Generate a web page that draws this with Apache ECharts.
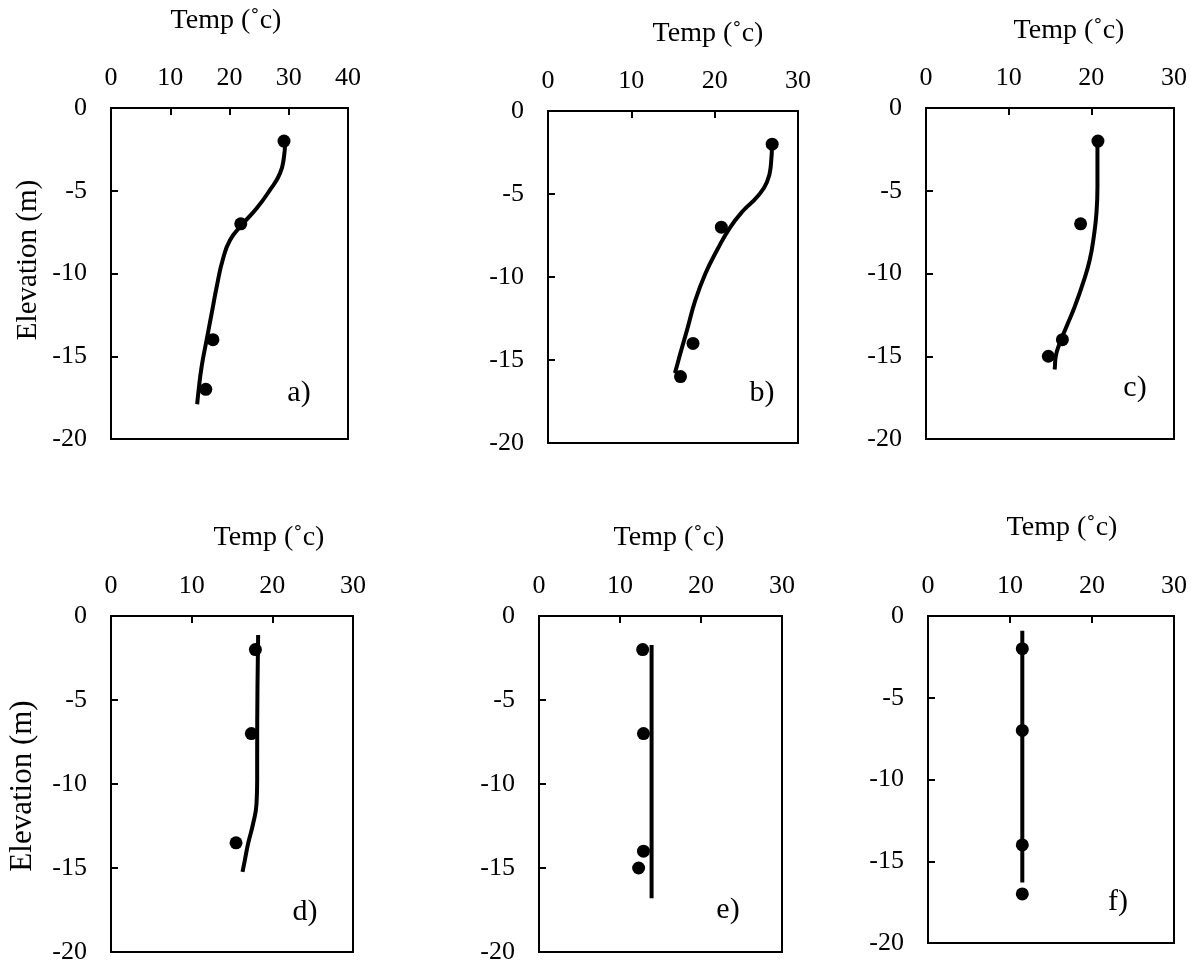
<!DOCTYPE html>
<html>
<head>
<meta charset="utf-8">
<script src="https://cdn.jsdelivr.net/npm/echarts@6/dist/echarts.min.js"></script>
<style>html,body{margin:0;padding:0;background:#fff}#c{width:1194px;height:968px}</style>
</head>
<body>
<div id="c"></div>
<script>
// ---- Data ----
const panelLabels = ['a)', 'b)', 'c)', 'd)', 'e)', 'f)'];
const xTitle = 'Temp (˚c)';
const yTitle = 'Elevation (m)';
const xMaxA = 40, xMaxOther = 30;
const yTicks = [0, -5, -10, -15, -20];

// measured points: temperature and elevation
const tempA = [29.2, 21.9, 17.2, 16.0];
const elevA = [-2, -7, -14, -17];
const tempB = [26.9, 20.8, 17.4, 15.9];
const elevB = [-2, -7, -14, -16];
const tempC = [20.8, 18.7, 16.5, 14.8];
const elevC = [-2, -7, -14, -15];
const tempD = [17.9, 17.4, 15.5];
const elevD = [-2, -7, -13.5];
const tempE = [12.8, 12.9, 12.9, 12.3];
const elevE = [-2, -7, -14, -15];
const tempF = [11.5, 11.5, 11.5, 11.5];
const elevF = [-2, -7, -14, -17];

// fitted profile curves: temperature and elevation
const curveTempA = [29.37, 29.2, 28.52, 26.84, 24.59, 22.06, 20.1, 18.85, 17.84, 17.0, 16.15, 15.31, 14.73, 14.55];
const curveElevA = [-2.13, -2.94, -3.95, -4.95, -6.06, -7.07, -7.98, -9.18, -10.8, -12.4, -14.0, -15.6, -17.24, -17.9];
const curveTempB = [26.88, 26.76, 26.28, 25.08, 23.47, 21.88, 20.28, 18.88, 17.68, 16.68, 15.88, 15.28, 15.2];
const curveElevB = [-1.96, -3.17, -4.28, -5.18, -5.98, -6.99, -8.39, -9.8, -11.4, -13.2, -14.6, -15.7, -15.8];
const curveTempC = [20.74, 20.74, 20.62, 20.3, 19.81, 19.0, 18.0, 17.0, 16.19, 15.7, 15.58, 15.56];
const curveElevC = [-2.22, -4.74, -6.34, -7.76, -9.17, -10.57, -11.99, -13.2, -14.2, -15.0, -15.7, -15.8];
const curveTempD = [18.24, 18.16, 18.12, 18.12, 18.04, 17.62, 17.0, 16.59, 16.3];
const curveElevD = [-1.13, -4.2, -8.18, -9.77, -11.16, -12.35, -13.54, -14.54, -15.23];
const curveTempE = [13.9, 13.9];
const curveElevE = [-1.73, -16.8];
const curveTempF = [11.5, 11.5];
const curveElevF = [-0.9, -16.3];

const pts = [[tempA, elevA], [tempB, elevB], [tempC, elevC], [tempD, elevD], [tempE, elevE], [tempF, elevF]];
const curves = [[curveTempA, curveElevA], [curveTempB, curveElevB], [curveTempC, curveElevC],
                [curveTempD, curveElevD], [curveTempE, curveElevE], [curveTempF, curveElevF]];
const xMaxes = [xMaxA, xMaxOther, xMaxOther, xMaxOther, xMaxOther, xMaxOther];

// ---- Layout ----
const FONT = "'Liberation Serif', 'Times New Roman', serif";
const grids = [
  {left: 111, top: 108, width: 237, height: 331},
  {left: 548, top: 111, width: 250, height: 332},
  {left: 926, top: 108, width: 248, height: 331},
  {left: 111, top: 616, width: 242, height: 336},
  {left: 539, top: 616, width: 243, height: 336},
  {left: 928, top: 616, width: 246, height: 327}
];
const titlePos = [[226, 21], [708, 34], [1069, 31], [269, 538], [669, 538], [1062, 528]];
const labelPos = [[299, 393], [762, 393], [1135, 388], [305, 912], [728, 910], [1118, 902]];
const yTitlePos = [[28, 260, 29], [23, 786, 31]];

const zip = (a, b) => a.map((v, i) => [v, b[i]]);

const option = {
  backgroundColor: '#fff',
  animation: false,
  grid: grids.map(g => Object.assign({show: true, borderColor: '#000', borderWidth: 2, backgroundColor: 'transparent'}, g)),
  xAxis: grids.map((g, i) => ({
    gridIndex: i, type: 'value', position: 'top', min: 0, max: xMaxes[i], interval: 10,
    axisLine: {show: true, onZero: false, lineStyle: {color: '#000', width: 2}},
    axisTick: {show: true, inside: true, length: 7, lineStyle: {color: '#000', width: 2}},
    axisLabel: {color: '#000', fontSize: 26, fontFamily: FONT, margin: 17},
    splitLine: {show: false}
  })),
  yAxis: grids.map((g, i) => ({
    gridIndex: i, type: 'value', min: -20, max: 0, interval: 5,
    axisLine: {show: true, onZero: false, lineStyle: {color: '#000', width: 2}},
    axisTick: {show: true, inside: true, length: 7, lineStyle: {color: '#000', width: 2}},
    axisLabel: {color: '#000', fontSize: 26, fontFamily: FONT, margin: 24},
    splitLine: {show: false}
  })),
  series: [],
  graphic: []
};

curves.forEach((c, i) => {
  option.series.push({
    type: 'line', xAxisIndex: i, yAxisIndex: i, data: zip(c[0], c[1]),
    smooth: 0.5, showSymbol: false, symbol: 'none',
    lineStyle: {color: '#000', width: 4}, z: 3
  });
});
pts.forEach((p, i) => {
  option.series.push({
    type: 'scatter', xAxisIndex: i, yAxisIndex: i, data: zip(p[0], p[1]),
    symbol: 'circle', symbolSize: 13, itemStyle: {color: '#000', opacity: 1}, z: 4
  });
});

titlePos.forEach(([x, y]) => option.graphic.push({
  type: 'text', x: x, y: y,
  style: {text: xTitle, fill: '#000', font: '28px ' + FONT, align: 'center', verticalAlign: 'middle'}
}));
labelPos.forEach(([x, y], i) => option.graphic.push({
  type: 'text', x: x, y: y,
  style: {text: panelLabels[i], fill: '#000', font: '30px ' + FONT, align: 'center', verticalAlign: 'middle'}
}));
yTitlePos.forEach(([x, y, fs]) => option.graphic.push({
  type: 'text', x: x, y: y, rotation: Math.PI / 2,
  style: {text: yTitle, fill: '#000', font: fs + 'px ' + FONT, align: 'center', verticalAlign: 'middle'}
}));

const chart = echarts.init(document.getElementById('c'));
chart.setOption(option);
</script>
</body>
</html>
